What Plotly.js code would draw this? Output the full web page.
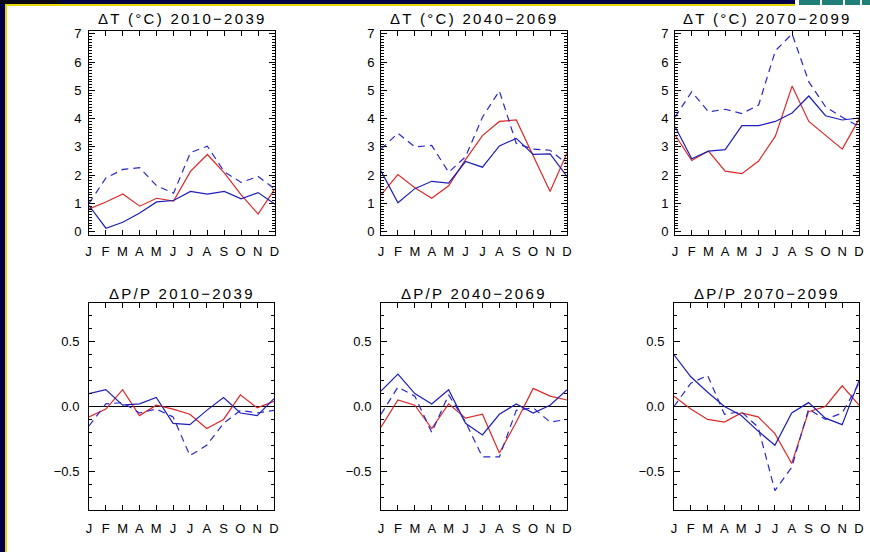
<!DOCTYPE html>
<html>
<head>
<meta charset="utf-8">
<script src="https://cdn.plot.ly/plotly-3.0.1.min.js"></script>
<style>
html,body{margin:0;padding:0;background:#fff;}
#chart{width:870px;height:552px;}
.annotation-text{letter-spacing:2.3px;}
.xtick text,.ytick text{letter-spacing:1px;}
</style>
</head>
<body>
<div id="chart"></div>
<script>
// month tick labels
const months = ["J","F","M","A","M","J","J","A","S","O","N","D"];
const monthIdx = [0,1,2,3,4,5,6,7,8,9,10,11];

// Panel titles
const titles = ["ΔT (°C) 2010−2039","ΔT (°C) 2040−2069","ΔT (°C) 2070−2099",
                "ΔP/P 2010−2039","ΔP/P 2040−2069","ΔP/P 2070−2099"];

// Temperature change (°C): red solid, blue solid, blue dashed
const tRed2010  = [0.80,1.05,1.33,0.90,1.18,1.08,2.13,2.73,2.08,1.30,0.62,1.52];
const tBlue2010 = [0.92,0.12,0.33,0.66,1.05,1.10,1.42,1.33,1.42,1.16,1.38,0.97];
const tDash2010 = [1.00,1.90,2.20,2.26,1.62,1.36,2.80,3.02,2.12,1.74,1.95,1.50];

const tRed2040  = [1.30,2.02,1.55,1.18,1.62,2.55,3.40,3.90,3.95,2.70,1.42,2.78];
const tBlue2040 = [2.15,1.02,1.52,1.78,1.72,2.48,2.28,3.03,3.30,2.73,2.75,1.95];
const tDash2040 = [2.92,3.48,3.00,3.05,2.10,2.65,4.05,4.98,3.12,2.92,2.88,2.40];

const tRed2070  = [3.42,2.52,2.85,2.14,2.05,2.50,3.38,5.15,3.90,3.42,2.92,3.98];
const tBlue2070 = [3.72,2.58,2.85,2.90,3.75,3.75,3.90,4.20,4.80,4.10,3.95,4.02];
const tDash2070 = [4.05,4.95,4.24,4.33,4.18,4.48,6.40,7.00,5.30,4.42,4.05,3.72];

// Relative precipitation change: red solid, blue solid, blue dashed
const pRed2010  = [-0.08,-0.02,0.13,-0.07,0.01,-0.02,-0.06,-0.17,-0.10,0.09,-0.01,0.04];
const pBlue2010 = [0.10,0.13,0.01,0.02,0.07,-0.13,-0.14,-0.03,0.07,-0.05,-0.07,0.06];
const pDash2010 = [-0.15,0.02,0.03,-0.05,-0.02,-0.08,-0.38,-0.30,-0.13,-0.03,-0.05,-0.03];

const pRed2040  = [-0.16,0.05,0.01,-0.17,0.02,-0.09,-0.06,-0.36,-0.12,0.14,0.08,0.05];
const pBlue2040 = [0.12,0.25,0.10,0.02,0.13,-0.13,-0.22,-0.06,0.02,-0.05,0.01,0.13];
const pDash2040 = [-0.06,0.15,0.08,-0.20,0.09,-0.12,-0.39,-0.39,-0.03,-0.01,-0.12,-0.10];

const pRed2070  = [0.08,-0.02,-0.10,-0.12,-0.05,-0.08,-0.21,-0.44,-0.04,0.00,0.16,0.01];
const pBlue2070 = [0.40,0.23,0.11,0.00,-0.07,-0.19,-0.30,-0.05,0.03,-0.09,-0.14,0.20];
const pDash2070 = [0.00,0.18,0.24,-0.06,-0.04,-0.16,-0.65,-0.47,-0.02,-0.10,-0.05,0.18];

const panels = [
  [tRed2010,tBlue2010,tDash2010],
  [tRed2040,tBlue2040,tDash2040],
  [tRed2070,tBlue2070,tDash2070],
  [pRed2010,pBlue2010,pDash2010],
  [pRed2040,pBlue2040,pDash2040],
  [pRed2070,pBlue2070,pDash2070]
];

const W = 870, H = 552;
// plot boxes in pixels [left,right,top,bottom]
const boxes = [
  [89,275,31,235],[381,567,31,235],[675,859,31,235],
  [89,274,303,510],[381,567,303,510],[674,859,303,510]
];

const RED = "rgb(222,40,40)", BLUE = "rgb(30,30,185)", DBLUE = "rgb(40,40,205)";
const FONT = "Liberation Sans, Arial, sans-serif";

const traces = [];
const layout = {
  width: W, height: H,
  margin: {l:0,r:0,t:0,b:0},
  paper_bgcolor: "#ffffff",
  plot_bgcolor: "#ffffff",
  showlegend: false,
  font: {family: FONT, size: 12, color: "#000"},
  annotations: [],
  shapes: []
};

panels.forEach((series, i) => {
  const n = i + 1;
  const xa = "x" + (n === 1 ? "" : n), ya = "y" + (n === 1 ? "" : n);
  const styles = [
    {color: RED, width: 1.2, dash: "solid"},
    {color: BLUE, width: 1.2, dash: "solid"},
    {color: DBLUE, width: 1.2, dash: "7px,5px"}
  ];
  series.forEach((vals, k) => {
    traces.push({x: monthIdx, y: vals, type: "scatter", mode: "lines",
      xaxis: xa, yaxis: ya, line: styles[k], hoverinfo: "skip", cliponaxis: true});
  });
  const b = boxes[i];
  const top = i < 3;
  const xkey = "xaxis" + (n === 1 ? "" : n), ykey = "yaxis" + (n === 1 ? "" : n);
  layout[xkey] = {
    domain: [b[0]/W, b[1]/W], anchor: ya, range: [0, 11],
    tickmode: "array", tickvals: monthIdx, ticktext: months,
    ticks: "inside", ticklen: 5, tickcolor: "#000", tickwidth: 1,
    showline: true, linecolor: "#000", linewidth: 1, mirror: "ticks",
    showgrid: false, zeroline: false, fixedrange: true,
    tickfont: {family: FONT, size: 13, color: "#000"},
    ticklabelstandoff: top ? 4 : 6
  };
  layout[ykey] = {
    domain: [1 - b[3]/H, 1 - b[2]/H], anchor: xa,
    range: top ? [-0.12, 7.1] : [-0.8, 0.8],
    tickmode: "array",
    tickvals: top ? [0,1,2,3,4,5,6,7] : [-0.5, 0, 0.5],
    ticktext: top ? ["0","1","2","3","4","5","6","7"] : ["−0.5","0.0","0.5"],
    ticks: "inside", ticklen: 6, tickcolor: "#000", tickwidth: 1,
    minor: {dtick: 0.1, tick0: 0, ticks: "inside", ticklen: 3, tickcolor: "#000", showgrid: false},
    showline: true, linecolor: "#000", linewidth: 1, mirror: "ticks",
    showgrid: false, fixedrange: true,
    zeroline: !top, zerolinecolor: "#000", zerolinewidth: 1.2,
    tickfont: {family: FONT, size: 13, color: "#000"},
    ticklabelstandoff: top ? 3 : 6
  };
  layout.annotations.push({
    text: titles[i], xref: "paper", yref: "paper",
    x: (b[0] + b[1]) / 2 / W, y: 1 - (top ? 18 : 293) / H,
    xanchor: "center", yanchor: "middle", showarrow: false,
    font: {family: FONT, size: 15, color: "#000"}
  });
});

// slide frame: navy band with yellow rule, logo blocks at top right
const px = v => v / W, py = v => 1 - v / H;
layout.shapes.push(
  {type:"rect", xref:"paper", yref:"paper", x0:0, x1:px(5), y0:0, y1:1, fillcolor:"rgb(0,0,72)", line:{width:0}, layer:"above"},
  {type:"rect", xref:"paper", yref:"paper", x0:px(5), x1:px(7), y0:0, y1:py(6), fillcolor:"rgb(235,215,0)", line:{width:0}, layer:"above"},
  {type:"rect", xref:"paper", yref:"paper", x0:0, x1:px(795), y0:py(4), y1:1, fillcolor:"rgb(0,0,72)", line:{width:0}, layer:"above"},
  {type:"rect", xref:"paper", yref:"paper", x0:px(5), x1:px(795), y0:py(6), y1:py(4), fillcolor:"rgb(235,215,0)", line:{width:0}, layer:"above"},
  {type:"rect", xref:"paper", yref:"paper", x0:px(0), x1:px(60), y0:py(4), y1:1, fillcolor:"rgb(10,10,24)", line:{width:0}, layer:"above"},
  {type:"rect", xref:"paper", yref:"paper", x0:px(799), x1:px(820), y0:py(5), y1:1, fillcolor:"rgb(30,128,118)", line:{width:0}, layer:"above"},
  {type:"rect", xref:"paper", yref:"paper", x0:px(822), x1:px(843), y0:py(5), y1:1, fillcolor:"rgb(30,128,118)", line:{width:0}, layer:"above"},
  {type:"rect", xref:"paper", yref:"paper", x0:px(845), x1:px(860), y0:py(5), y1:1, fillcolor:"rgb(30,128,118)", line:{width:0}, layer:"above"},
  {type:"rect", xref:"paper", yref:"paper", x0:px(862), x1:px(870), y0:py(5), y1:1, fillcolor:"rgb(30,128,118)", line:{width:0}, layer:"above"}
);

Plotly.newPlot("chart", traces, layout, {displayModeBar: false, staticPlot: true});
</script>
</body>
</html>
